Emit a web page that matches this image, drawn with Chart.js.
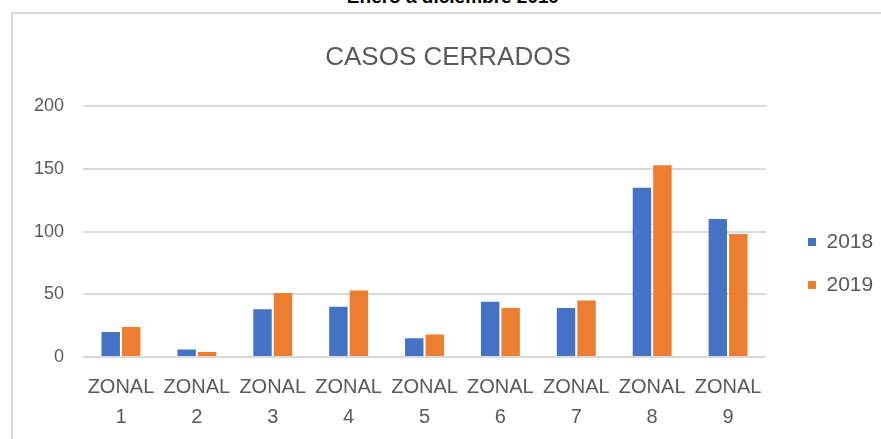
<!DOCTYPE html>
<html>
<head>
<meta charset="utf-8">
<script src="https://cdn.jsdelivr.net/npm/chart.js@4/dist/chart.umd.min.js"></script>
<style>
    html, body { margin: 0; padding: 0; background: #fff; overflow: hidden; }
    #wrap { position: relative; width: 881px; height: 439px; }
    #frame { position: absolute; left: 11px; top: 12px; width: 900px; height: 460px; border: 2px solid #d9d9d9; }
    #sup { position: absolute; left: 0; width: 906px; top: -14px; text-align: center; font: bold 19px "Liberation Sans", Arial, sans-serif; color: #000; line-height: 22px; }
    #box { position: absolute; left: 0; top: 0; width: 881px; height: 439px; }
</style>
</head>
<body>
<div id="wrap">
    <div id="sup">Enero a diciembre 2019</div>
    <div id="frame"></div>
    <div id="box"><canvas id="casosCerradosChart"></canvas></div>
</div>
<script>
const zonas = [
    ['ZONAL', '1'], ['ZONAL', '2'], ['ZONAL', '3'], ['ZONAL', '4'], ['ZONAL', '5'],
    ['ZONAL', '6'], ['ZONAL', '7'], ['ZONAL', '8'], ['ZONAL', '9']
];
const casos2018 = [20, 6, 38, 40, 15, 44, 39, 135, 110];
const casos2019 = [24, 4, 51, 53, 18, 39, 45, 153, 98];
const yTicks = [0, 50, 100, 150, 200];

const grey = '#595959';

// push the legend away from the plot and down, like the excel original
const legendGap = {
    id: 'legendGap',
    beforeInit: (chart) => {
        const fit = chart.legend.fit;
        chart.legend.fit = function() {
            fit.call(this);
            this.width = 115;
        };
    },
    afterLayout: (chart) => {
        chart.legend.left += 20;
        chart.legend.right += 20;
        chart.legend.top += 40;
        chart.legend.bottom += 40;
    }
};

const ctx = document.getElementById('casosCerradosChart').getContext('2d');
new Chart(ctx, {
    type: 'bar',
    data: {
        labels: zonas,
        datasets: [
            { label: '2018', data: casos2018, backgroundColor: '#4472C4', borderWidth: 0 },
            { label: '2019', data: casos2019, backgroundColor: '#ED7D31', borderWidth: 0 }
        ]
    },
    plugins: [legendGap],
    options: {
        responsive: true,
        maintainAspectRatio: false,
        animation: false,
        layout: { padding: { left: 15, right: 0, top: 0, bottom: -8 } },
        datasets: { bar: { categoryPercentage: 0.54, barPercentage: 0.9 } },
        scales: {
            x: {
                grid: { display: false, drawTicks: false },
                border: { display: false },
                ticks: {
                    color: grey,
                    padding: 15,
                    maxRotation: 0,
                    font: { family: '"Liberation Sans", Arial, sans-serif', size: 20, lineHeight: 1.5 }
                }
            },
            y: {
                min: 0,
                max: 200,
                afterBuildTicks: (axis) => { axis.ticks = yTicks.map(v => ({ value: v })); },
                grid: { color: '#d9d9d9', lineWidth: 2, drawTicks: false },
                border: { display: false },
                ticks: {
                    color: grey,
                    padding: 19,
                    font: { family: '"Liberation Sans", Arial, sans-serif', size: 18 }
                }
            }
        },
        plugins: {
            title: {
                display: true,
                text: 'CASOS CERRADOS',
                color: grey,
                font: { family: '"Liberation Sans", Arial, sans-serif', size: 26, weight: 'normal', lineHeight: 1.2 },
                padding: { top: 42, bottom: 33 }
            },
            legend: {
                position: 'right',
                labels: {
                    color: grey,
                    boxWidth: 8,
                    boxHeight: 8,
                    padding: 22,
                    font: { family: '"Liberation Sans", Arial, sans-serif', size: 21 }
                }
            },
            tooltip: { enabled: false }
        }
    }
});
</script>
</body>
</html>
